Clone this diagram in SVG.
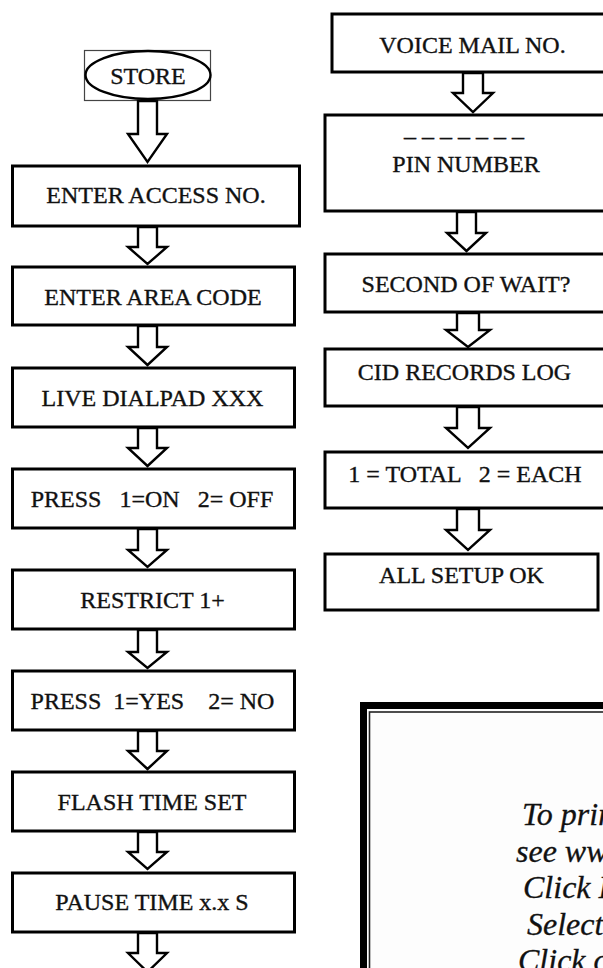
<svg xmlns="http://www.w3.org/2000/svg" width="603" height="968" viewBox="0 0 603 968">
<style>
.box{fill:#fff;stroke:#000;stroke-width:3}
.arr{fill:#fff;stroke:#000;stroke-width:2.4;stroke-linejoin:miter}
.t{font-family:"Liberation Serif","Times New Roman",serif;font-size:24px;fill:#111;stroke:#111;stroke-width:0.35;text-anchor:middle;white-space:pre}
.it{font-family:"Liberation Serif","Times New Roman",serif;font-size:32px;font-style:italic;fill:#111;stroke:#111;stroke-width:0.3;white-space:pre}
</style>
<rect width="603" height="968" fill="#fff"/>

<g id="store">
<rect x="84.5" y="50.5" width="126" height="50" fill="#fff" stroke="#444" stroke-width="1.2"/>
<ellipse cx="148" cy="75" rx="62.5" ry="24" fill="#fff" stroke="#000" stroke-width="2.4"/>
<text class="t" x="148" y="84" font-size="25">STORE</text>
</g>

<g id="connectors">
<path class="arr" d="M138,101 L157,101 L157,134 L167,134 L147.5,162 L128,134 L138,134 Z"/>
<path class="arr" d="M138,227 L157,227 L157,247 L167,247 L147.5,264 L128,247 L138,247 Z"/>
<path class="arr" d="M138,326 L157,326 L157,347 L167,347 L147.5,365 L128,347 L138,347 Z"/>
<path class="arr" d="M138,428 L157,428 L157,448 L167,448 L147.5,466 L128,448 L138,448 Z"/>
<path class="arr" d="M138,529 L157,529 L157,550 L167,550 L147.5,567 L128,550 L138,550 Z"/>
<path class="arr" d="M138,630 L157,630 L157,652 L167,652 L147.5,668 L128,652 L138,652 Z"/>
<path class="arr" d="M138,731 L157,731 L157,751 L167,751 L147.5,769 L128,751 L138,751 Z"/>
<path class="arr" d="M138,832 L157,832 L157,852 L167,852 L147.5,869 L128,852 L138,852 Z"/>
<path class="arr" d="M138,933 L157,933 L157,953 L167,953 L147.5,972 L128,953 L138,953 Z"/>

<path class="arr" d="M463,73 L483,73 L483,93 L493,93 L473,112 L453,93 L463,93 Z"/>
<path class="arr" d="M457,212 L476,212 L476,233 L486,233 L466.5,251 L447,233 L457,233 Z"/>
<path class="arr" d="M457,313 L479,313 L479,330 L490,330 L468,347 L446,330 L457,330 Z"/>
<path class="arr" d="M457,407 L479,407 L479,428 L490,428 L468,448 L446,428 L457,428 Z"/>
<path class="arr" d="M457,509 L479,509 L479,530 L490,530 L468,550 L446,530 L457,530 Z"/>
</g>

<g id="enter-access">
<rect class="box" x="12.5" y="166" width="287" height="60"/>
<text class="t" x="156" y="203">ENTER ACCESS NO.</text>
</g>
<g id="enter-area">
<rect class="box" x="12.5" y="267" width="282" height="58"/>
<text class="t" x="153" y="305">ENTER AREA CODE</text>
</g>
<g id="live-dialpad">
<rect class="box" x="12.5" y="368" width="282" height="59"/>
<text class="t" x="152.5" y="406">LIVE DIALPAD XXX</text>
</g>
<g id="press-on-off">
<rect class="box" x="12.5" y="469" width="282" height="59"/>
<text class="t" x="152" y="507">PRESS   1=ON   2= OFF</text>
</g>
<g id="restrict">
<rect class="box" x="12.5" y="570" width="282" height="59"/>
<text class="t" x="152.5" y="608">RESTRICT 1+</text>
</g>
<g id="press-yes-no">
<rect class="box" x="12.5" y="671" width="282" height="59"/>
<text class="t" x="152.5" y="709">PRESS  1=YES    2= NO</text>
</g>
<g id="flash-time">
<rect class="box" x="12.5" y="772" width="282" height="59"/>
<text class="t" x="152" y="810">FLASH TIME SET</text>
</g>
<g id="pause-time">
<rect class="box" x="12.5" y="873" width="282" height="59"/>
<text class="t" x="152" y="910">PAUSE TIME x.x S</text>
</g>

<g id="voice-mail">
<rect class="box" x="332" y="14" width="285" height="58"/>
<text class="t" x="472.5" y="53">VOICE MAIL NO.</text>
</g>
<g id="pin-number">
<rect class="box" x="325" y="115" width="285" height="96"/>
<text class="t" x="464" y="136">_ _ _ _ _ _ _</text>
<text class="t" x="466" y="172">PIN NUMBER</text>
</g>
<g id="second-wait">
<rect class="box" x="325" y="254" width="285" height="58"/>
<text class="t" x="466" y="292">SECOND OF WAIT?</text>
</g>
<g id="cid-log">
<rect class="box" x="325" y="349" width="285" height="57"/>
<text class="t" x="464.5" y="380">CID RECORDS LOG</text>
</g>
<g id="total-each">
<rect class="box" x="325" y="452" width="285" height="56"/>
<text class="t" x="465" y="482">1 = TOTAL   2 = EACH</text>
</g>
<g id="all-setup">
<rect class="box" x="325" y="554" width="273" height="56"/>
<text class="t" x="461.5" y="583">ALL SETUP OK</text>
</g>

<g id="note">
<rect x="363.5" y="705.5" width="260" height="280" fill="#fdfdfd" stroke="#000" stroke-width="7"/>
<rect x="369.5" y="712" width="250" height="270" fill="none" stroke="#222" stroke-width="1.6"/>
<text class="it" x="522" y="825">To print</text>
<text class="it" x="516" y="862">see www</text>
<text class="it" x="523" y="898">Click File</text>
<text class="it" x="527" y="935">Select</text>
<text class="it" x="518" y="971">Click on</text>
</g>
</svg>
